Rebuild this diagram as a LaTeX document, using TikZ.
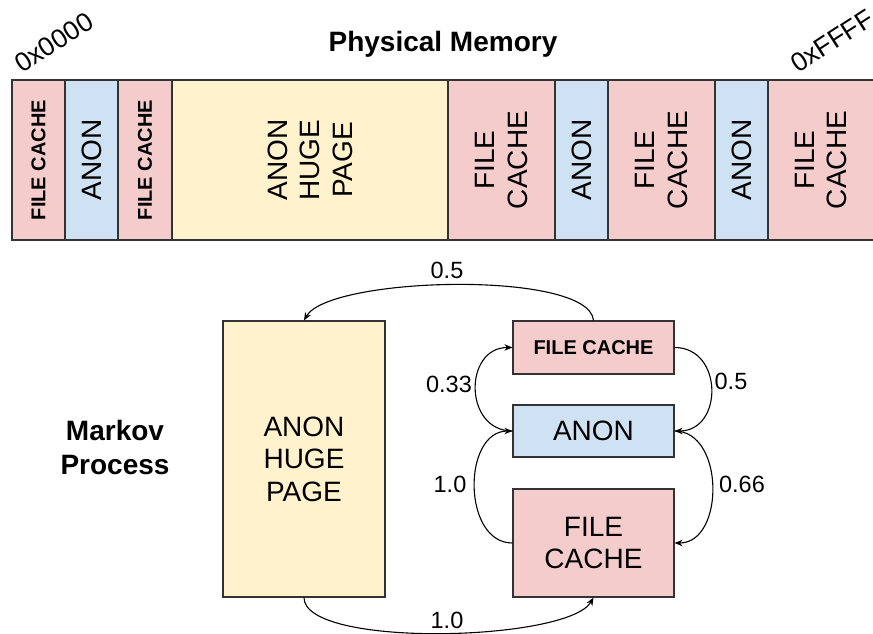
\documentclass[tikz,border=0pt]{standalone}
\usepackage{fontspec}
\setmainfont{Liberation Sans}
\usetikzlibrary{arrows.meta}
\definecolor{fcpink}{HTML}{F4CCCC}
\definecolor{anonblue}{HTML}{CFE2F3}
\definecolor{hugeyel}{HTML}{FFF2CC}
\definecolor{edgegray}{HTML}{333333}
\begin{document}
\begin{tikzpicture}[x=1pt,y=1pt,
  big/.style={font=\fontsize{28}{32.5}\selectfont},
  small/.style={font=\fontsize{20}{24}\selectfont\bfseries},
  lab/.style={font=\fontsize{23.5}{27}\selectfont, inner sep=0pt},
  hexlab/.style={font=\fontsize{26.5}{30}\selectfont, rotate=33, inner sep=0pt},
  memcell/.style={draw=edgegray, line width=1.5pt, rotate=90, minimum width=160pt, inner sep=0pt, align=center},
  mbox/.style={draw=edgegray, line width=1.2pt, inner sep=0pt, align=center, minimum width=161pt},
  arr/.style={-{Stealth[length=8pt,width=6.5pt]}, line width=1.1pt, black}]
\clip (0,0) rectangle (873,-634);
% Physical memory bar
\node[font=\fontsize{28}{32.5}\selectfont\bfseries] (pm) at (443,-44) {Physical Memory};
\node[hexlab] (lo) at (54,-42) {0x0000};
\node[hexlab] (hi) at (832,-41) {0xFFFF};
\node[memcell, fill=fcpink, minimum height=53pt, small] (m1) at (38.5,-160) {FILE CACHE};
\node[memcell, fill=anonblue, minimum height=53pt, big] (m2) at (91.5,-160) {ANON};
\node[memcell, fill=fcpink, minimum height=54pt, small] (m3) at (145,-160) {FILE CACHE};
\node[memcell, fill=hugeyel, minimum height=276pt, big] (m4) at (310,-160) {ANON\\HUGE\\PAGE};
\node[memcell, fill=fcpink, minimum height=107pt, big] (m5) at (501.5,-160) {FILE\\CACHE};
\node[memcell, fill=anonblue, minimum height=53pt, big] (m6) at (581.5,-160) {ANON};
\node[memcell, fill=fcpink, minimum height=107pt, big] (m7) at (661.5,-160) {FILE\\CACHE};
\node[memcell, fill=anonblue, minimum height=53pt, big] (m8) at (741.5,-160) {ANON};
\node[memcell, fill=fcpink, minimum height=106pt, big] (m9) at (821,-160) {FILE\\CACHE};
% Markov process
\node[font=\fontsize{28}{34}\selectfont\bfseries, align=center] (mp) at (115,-447) {Markov\\Process};
\node[mbox, fill=hugeyel, minimum width=162pt, minimum height=276pt, big] (hp) at (304,-459) {ANON\\HUGE\\PAGE};
\node[mbox, fill=fcpink, minimum height=53pt, small] (fc1) at (593.5,-347.5) {FILE CACHE};
\node[mbox, fill=anonblue, minimum height=52pt, big] (an) at (593.5,-431) {ANON};
\node[mbox, fill=fcpink, minimum height=108pt, big] (fc2) at (593.5,-543) {FILE\\CACHE};
% transitions
\draw[arr] (fc1.north) to[out=95,in=60,looseness=0.45] (hp.north);
\draw[arr] (hp.south) to[out=-90,in=-120,looseness=0.45] (fc2.south);
\draw[arr] (an.west) to[out=180,in=180,looseness=1.5] (fc1.west);
\draw[arr] (fc2.west) to[out=180,in=180,looseness=1.15] (an.west);
\draw[arr] (fc1.east) to[out=0,in=0,looseness=1.5] (an.east);
\draw[arr] (an.east) to[out=0,in=0,looseness=1.15] (fc2.east);
% labels
\node[lab] (t1) at (447,-270) {0.5};
\node[lab] (t2) at (449,-384) {0.33};
\node[lab] (t3) at (450,-484) {1.0};
\node[lab] (t4) at (731,-381) {0.5};
\node[lab] (t5) at (742,-484) {0.66};
\node[lab] (t6) at (447,-620) {1.0};
\end{tikzpicture}
\end{document}
